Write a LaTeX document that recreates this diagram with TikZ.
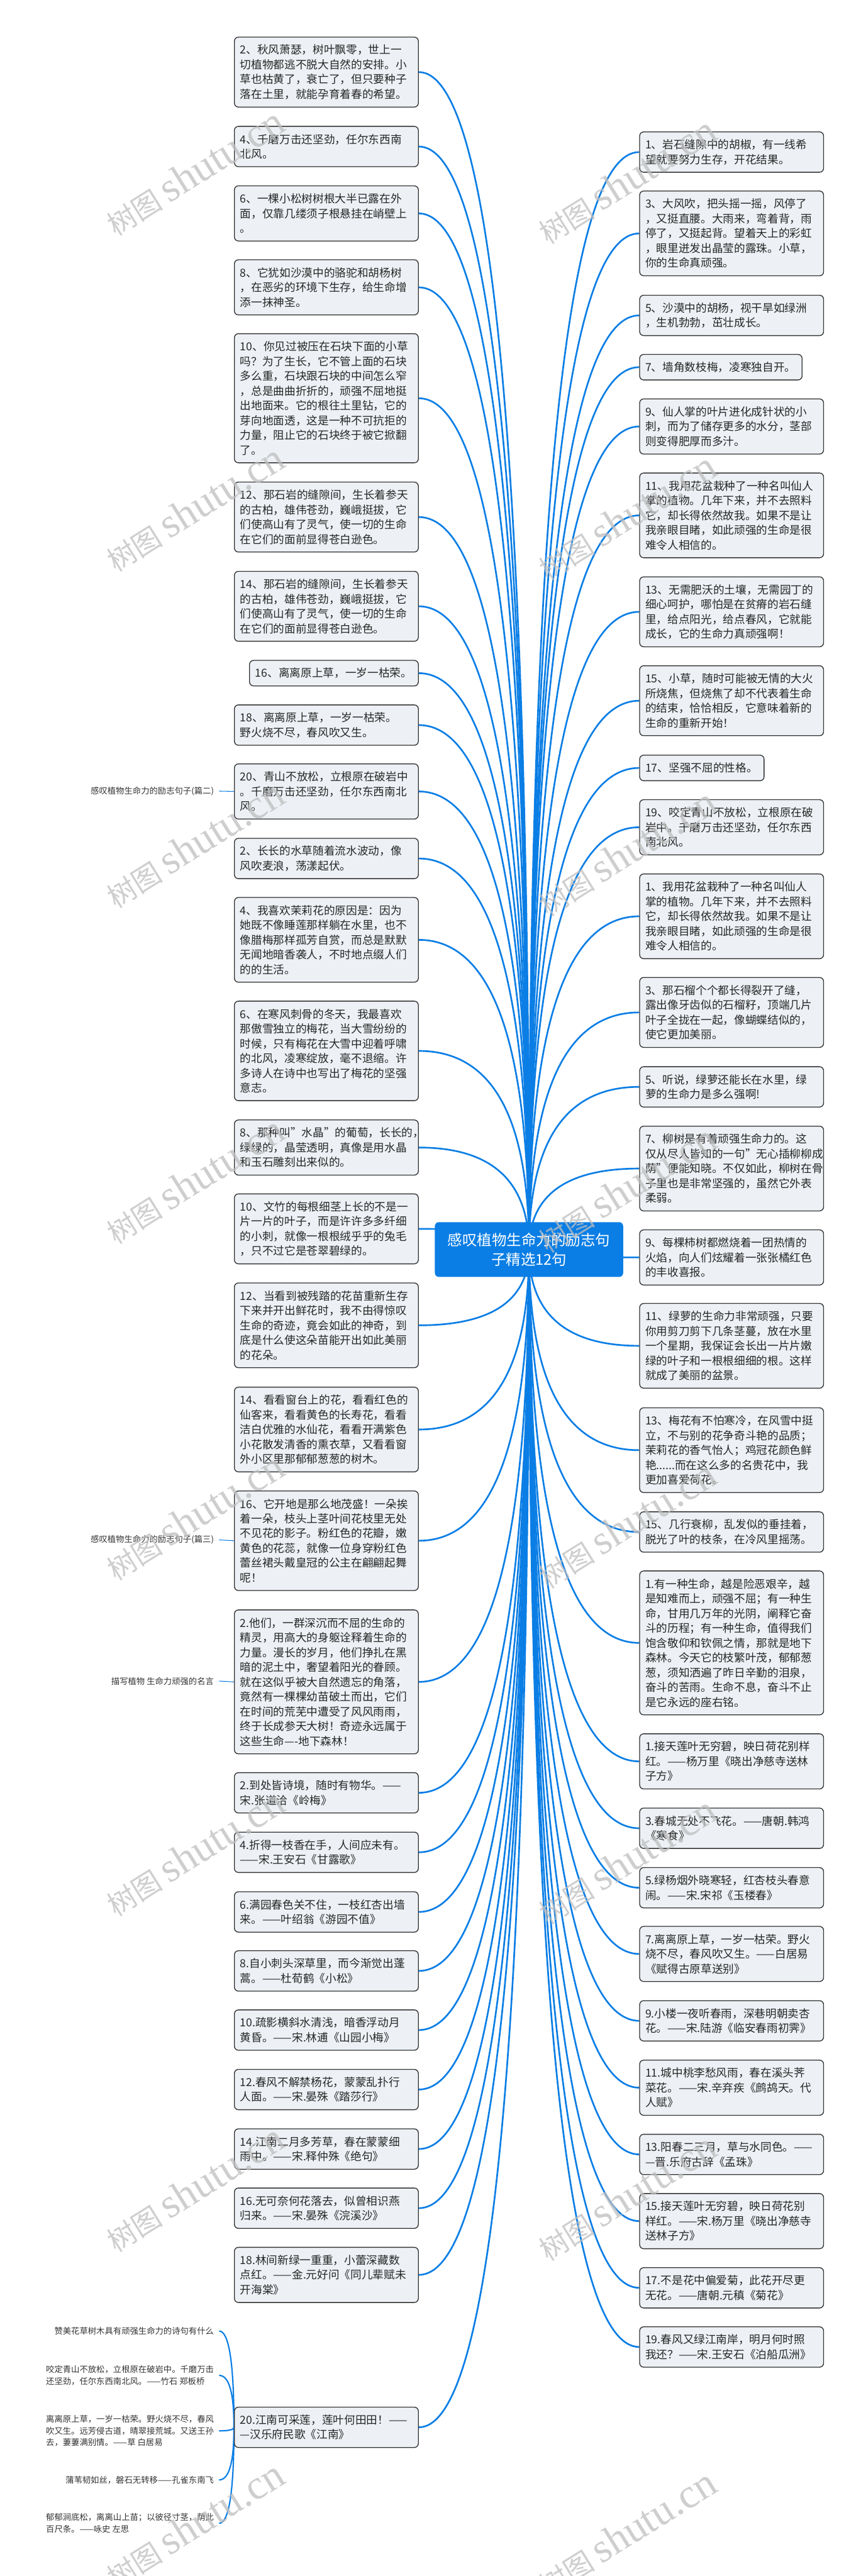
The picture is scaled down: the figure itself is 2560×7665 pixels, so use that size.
\documentclass[tikz,border=0pt]{standalone}
\usepackage{fontspec}
\setmainfont{Noto Sans CJK SC}
\newfontfamily\wmlatin{Liberation Serif}
\usepackage{tikz}
\usetikzlibrary{calc,backgrounds}

\definecolor{mapblue}{RGB}{11,126,229}
\definecolor{boxfill}{RGB}{237,241,245}
\definecolor{boxline}{RGB}{51,51,51}
\definecolor{wmgray}{RGB}{190,190,190}
\newcommand{\leaffont}{\fontsize{9.4pt}{12.5pt}\selectfont}
\newcommand{\rootfont}{\fontsize{12.5pt}{16.5pt}\selectfont}
\newcommand{\notefont}{\fontsize{7.1pt}{10pt}\selectfont}

\begin{document}
\begin{tikzpicture}[x=0.01cm, y=-0.01cm,
  leaf/.style={draw=boxline, fill=boxfill, rounded corners=0.12cm, line width=0.025cm, text width=5.13cm, inner xsep=0.17cm, inner ysep=0pt, align=left, text=black!85, font=\leaffont},
  nl/.style={minimum height={(0.32+0.44*#1)*1cm}},
  lft/.style={leaf, anchor=east},
  rgt/.style={leaf, anchor=west},
  root/.style={fill=mapblue, rounded corners=0.12cm, minimum width=5.6cm, minimum height=1.63cm, text width=4.9cm, align=center, text=white, font=\rootfont},
  note/.style={anchor=east, align=left, inner xsep=0.15cm, text=black!80, font=\notefont},
  branch/.style={draw=mapblue, line width=0.05cm, to path={.. controls ($(\tikztostart)!0.6667!(\tikztotarget|-\tikztostart)$) and ($(\tikztotarget)!0.6667!(\tikztotarget|-\tikztostart)$) .. (\tikztotarget)}},
  twig/.style={draw=mapblue, line width=0.02cm},
  wmark/.style={anchor=base west, rotate=32, text=wmgray, opacity=0.75, inner sep=0pt}
]
\useasboundingbox (0,0) rectangle (2560,7665);

% Central topic
\node[root] (cen) at (1574,3718) {感叹植物生命力的励志句\\子精选12句};

% Left column
\node[lft, nl=4] (L1) at (1246,214.5) {2、秋风萧瑟，树叶飘零，世上一\\切植物都逃不脱大自然的安排。小\\草也枯黄了，衰亡了，但只要种子\\落在土里，就能孕育着春的希望。};
\node[lft, nl=2] (L2) at (1246,436) {4、千磨万击还坚劲，任尔东西南\\北风。};
\node[lft, nl=3] (L3) at (1246,635) {6、一棵小松树树根大半已露在外\\面，仅靠几缕须子根悬挂在峭壁上\\。};
\node[lft, nl=3] (L4) at (1246,855) {8、它犹如沙漠中的骆驼和胡杨树\\，在恶劣的环境下生存，给生命增\\添一抹神圣。};
\node[lft, nl=8] (L5) at (1246,1185) {10、你见过被压在石块下面的小草\\吗？为了生长，它不管上面的石块\\多么重，石块跟石块的中间怎么窄\\，总是曲曲折折的，顽强不屈地挺\\出地面来。它的根往土里钻，它的\\芽向地面透，这是一种不可抗拒的\\力量，阻止它的石块终于被它掀翻\\了。};
\node[lft, nl=4] (L6) at (1246,1538.5) {12、那石岩的缝隙间，生长着参天\\的古柏，雄伟苍劲，巍峨挺拔，它\\们使高山有了灵气，使一切的生命\\在它们的面前显得苍白逊色。};
\node[lft, nl=4] (L7) at (1246,1804) {14、那石岩的缝隙间，生长着参天\\的古柏，雄伟苍劲，巍峨挺拔，它\\们使高山有了灵气，使一切的生命\\在它们的面前显得苍白逊色。};
\node[lft, nl=1, text width=4.68cm] (L8) at (1246,2003) {16、离离原上草，一岁一枯荣。};
\node[lft, nl=2] (L9) at (1246,2157.5) {18、离离原上草，一岁一枯荣。\\野火烧不尽，春风吹又生。};
\node[lft, nl=3] (L10) at (1246,2355) {20、青山不放松，立根原在破岩中\\。千磨万击还坚劲，任尔东西南北\\风。};
\node[lft, nl=2] (L11) at (1246,2554.5) {2、长长的水草随着流水波动，像\\风吹麦浪，荡漾起伏。};
\node[lft, nl=5] (L12) at (1246,2796.5) {4、我喜欢茉莉花的原因是：因为\\她既不像睡莲那样躺在水里，也不\\像腊梅那样孤芳自赏，而总是默默\\无闻地暗香袭人，不时地点缀人们\\的的生活。};
\node[lft, nl=6] (L13) at (1246,3127) {6、在寒风刺骨的冬天，我最喜欢\\那傲雪独立的梅花，当大雪纷纷的\\时候，只有梅花在大雪中迎着呼啸\\的北风，凌寒绽放，毫不退缩。许\\多诗人在诗中也写出了梅花的坚强\\意志。};
\node[lft, nl=3] (L14) at (1246,3414.5) {8、那种叫"水晶"的葡萄，长长的，\\绿绿的，晶莹透明，真像是用水晶\\和玉石雕刻出来似的。};
\node[lft, nl=4] (L15) at (1246,3656.5) {10、文竹的每根细茎上长的不是一\\片一片的叶子，而是许许多多纤细\\的小刺，就像一根根绒乎乎的兔毛\\，只不过它是苍翠碧绿的。};
\node[lft, nl=5] (L16) at (1246,3943.5) {12、当看到被残踏的花苗重新生存\\下来并开出鲜花时，我不由得惊叹\\生命的奇迹，竟会如此的神奇，到\\底是什么使这朵苗能开出如此美丽\\的花朵。};
\node[lft, nl=5] (L17) at (1246,4253.5) {14、看看窗台上的花，看看红色的\\仙客来，看看黄色的长寿花，看看\\洁白优雅的水仙花，看看开满紫色\\小花散发清香的熏衣草，又看看窗\\外小区里那郁郁葱葱的树木。};
\node[lft, nl=6] (L18) at (1246,4584.5) {16、它开地是那么地茂盛！一朵挨\\着一朵，枝头上茎叶间花枝里无处\\不见花的影子。粉红色的花瓣，嫩\\黄色的花蕊，就像一位身穿粉红色\\蕾丝裙头戴皇冠的公主在翩翩起舞\\呢！};
\node[lft, nl=9] (L19) at (1246,5004.5) {2.他们，一群深沉而不屈的生命的\\精灵，用高大的身躯诠释着生命的\\力量。漫长的岁月，他们挣扎在黑\\暗的泥土中，奢望着阳光的眷顾。\\就在这似乎被大自然遗忘的角落，\\竟然有一棵棵幼苗破土而出，它们\\在时间的荒芜中遭受了风风雨雨，\\终于长成参天大树！奇迹永远属于\\这些生命----地下森林！};
\node[lft, nl=2] (L20) at (1246,5334.5) {2.到处皆诗境，随时有物华。——\\宋.张道洽《岭梅》};
\node[lft, nl=2] (L21) at (1246,5511.5) {4.折得一枝香在手，人间应未有。\\——宋.王安石《甘露歌》};
\node[lft, nl=2] (L22) at (1246,5689) {6.满园春色关不住，一枝红杏出墙\\来。——叶绍翁《游园不值》};
\node[lft, nl=2] (L23) at (1246,5864.5) {8.自小刺头深草里，而今渐觉出蓬\\蒿。——杜荀鹤《小松》};
\node[lft, nl=2] (L24) at (1246,6040.5) {10.疏影横斜水清浅，暗香浮动月\\黄昏。——宋.林逋《山园小梅》};
\node[lft, nl=2] (L25) at (1246,6217.5) {12.春风不解禁杨花，蒙蒙乱扑行\\人面。——宋.晏殊《踏莎行》};
\node[lft, nl=2] (L26) at (1246,6394.5) {14.江南二月多芳草，春在蒙蒙细\\雨中。——宋.释仲殊《绝句》};
\node[lft, nl=2] (L27) at (1246,6570.5) {16.无可奈何花落去，似曾相识燕\\归来。——宋.晏殊《浣溪沙》};
\node[lft, nl=3] (L28) at (1246,6769) {18.林间新绿一重重，小蕾深藏数\\点红。——金.元好问《同儿辈赋未\\开海棠》};
\node[lft, nl=2] (L29) at (1246,7222.5) {20.江南可采莲，莲叶何田田！——\\—汉乐府民歌《江南》};

% Right column
\node[rgt, nl=2] (R1) at (1902,452.5) {1、岩石缝隙中的胡椒，有一线希\\望就要努力生存，开花结果。};
\node[rgt, nl=5] (R2) at (1902,694.5) {3、大风吹，把头摇一摇，风停了\\，又挺直腰。大雨来，弯着背，雨\\停了，又挺起背。望着天上的彩虹\\，眼里迸发出晶莹的露珠。小草，\\你的生命真顽强。};
\node[rgt, nl=2] (R3) at (1902,938.5) {5、沙漠中的胡杨，视干旱如绿洲\\，生机勃勃，茁壮成长。};
\node[rgt, nl=1, text width=4.49cm] (R4) at (1902,1092.5) {7、墙角数枝梅，凌寒独自开。};
\node[rgt, nl=3] (R5) at (1902,1269) {9、仙人掌的叶片进化成针状的小\\刺，而为了储存更多的水分，茎部\\则变得肥厚而多汁。};
\node[rgt, nl=5] (R6) at (1902,1533.5) {11、我用花盆栽种了一种名叫仙人\\掌的植物。几年下来，并不去照料\\它，却长得依然故我。如果不是让\\我亲眼目睹，如此顽强的生命是很\\难令人相信的。};
\node[rgt, nl=4] (R7) at (1902,1820.5) {13、无需肥沃的土壤，无需园丁的\\细心呵护，哪怕是在贫瘠的岩石缝\\里，给点阳光，给点春风，它就能\\成长，它的生命力真顽强啊！};
\node[rgt, nl=4] (R8) at (1902,2085) {15、小草，随时可能被无情的大火\\所烧焦，但烧焦了却不代表着生命\\的结束，恰恰相反，它意味着新的\\生命的重新开始！};
\node[rgt, nl=1, text width=3.36cm] (R9) at (1902,2285) {17、坚强不屈的性格。};
\node[rgt, nl=3] (R10) at (1902,2461.5) {19、咬定青山不放松，立根原在破\\岩中。千磨万击还坚劲，任尔东西\\南北风。};
\node[rgt, nl=5] (R11) at (1902,2726.5) {1、我用花盆栽种了一种名叫仙人\\掌的植物。几年下来，并不去照料\\它，却长得依然故我。如果不是让\\我亲眼目睹，如此顽强的生命是很\\难令人相信的。};
\node[rgt, nl=4] (R12) at (1902,3012.5) {3、那石榴个个都长得裂开了缝，\\露出像牙齿似的石榴籽，顶端几片\\叶子全拢在一起，像蝴蝶结似的，\\使它更加美丽。};
\node[rgt, nl=2] (R13) at (1902,3234) {5、听说，绿萝还能长在水里，绿\\萝的生命力是多么强啊!};
\node[rgt, nl=5] (R14) at (1902,3477) {7、柳树是有着顽强生命力的。这\\仅从尽人皆知的一句"无心插柳柳成\\荫"便能知晓。不仅如此，柳树在骨\\子里也是非常坚强的，虽然它外表\\柔弱。};
\node[rgt, nl=3] (R15) at (1902,3741.5) {9、每棵柿树都燃烧着一团热情的\\火焰，向人们炫耀着一张张橘红色\\的丰收喜报。};
\node[rgt, nl=5] (R16) at (1902,4004.5) {11、绿萝的生命力非常顽强，只要\\你用剪刀剪下几条茎蔓，放在水里\\一个星期，我保证会长出一片片嫩\\绿的叶子和一根根细细的根。这样\\就成了美丽的盆景。};
\node[rgt, nl=5] (R17) at (1902,4315) {13、梅花有不怕寒冷，在风雪中挺\\立，不与别的花争奇斗艳的品质；\\茉莉花的香气怡人；鸡冠花颜色鲜\\艳......而在这么多的名贵花中，我\\更加喜爱荷花。};
\node[rgt, nl=2] (R18) at (1902,4558.5) {15、几行衰柳，乱发似的垂挂着，\\脱光了叶的枝条，在冷风里摇荡。};
\node[rgt, nl=9] (R19) at (1902,4888.5) {1.有一种生命，越是险恶艰辛，越\\是知难而上，顽强不屈；有一种生\\命，甘用几万年的光阴，阐释它奋\\斗的历程；有一种生命，值得我们\\饱含敬仰和钦佩之情，那就是地下\\森林。今天它的枝繁叶茂，郁郁葱\\葱，须知洒遍了昨日辛勤的泪泉，\\奋斗的苦雨。生命不息，奋斗不止\\是它永远的座右铭。};
\node[rgt, nl=3] (R20) at (1902,5241) {1.接天莲叶无穷碧，映日荷花别样\\红。——杨万里《晓出净慈寺送林\\子方》};
\node[rgt, nl=2] (R21) at (1902,5440) {3.春城无处不飞花。——唐朝.韩鸿\\《寒食》};
\node[rgt, nl=2] (R22) at (1902,5617) {5.绿杨烟外晓寒轻，红杏枝头春意\\闹。——宋.宋祁《玉楼春》};
\node[rgt, nl=3] (R23) at (1902,5814) {7.离离原上草，一岁一枯荣。野火\\烧不尽，春风吹又生。——白居易\\《赋得古原草送别》};
\node[rgt, nl=2] (R24) at (1902,6013) {9.小楼一夜听春雨，深巷明朝卖杏\\花。——宋.陆游《临安春雨初霁》};
\node[rgt, nl=3] (R25) at (1902,6212) {11.城中桃李愁风雨，春在溪头荠\\菜花。——宋.辛弃疾《鹧鸪天。代\\人赋》};
\node[rgt, nl=2] (R26) at (1902,6410.5) {13.阳春二三月，草与水同色。——\\—晋.乐府古辞《孟珠》};
\node[rgt, nl=3] (R27) at (1902,6609) {15.接天莲叶无穷碧，映日荷花别\\样红。——宋.杨万里《晓出净慈寺\\送林子方》};
\node[rgt, nl=2] (R28) at (1902,6807.5) {17.不是花中偏爱菊，此花开尽更\\无花。——唐朝.元稹《菊花》};
\node[rgt, nl=2] (R29) at (1902,6983.5) {19.春风又绿江南岸，明月何时照\\我还？——宋.王安石《泊船瓜洲》};

% Outer labels on the left
\node[note] (P2) at (652,2354) {感叹植物生命力的励志句子(篇二)};
\node[note] (P3) at (652,4582) {感叹植物生命力的励志句子(篇三)};
\node[note] (M1) at (652,5002) {描写植物 生命力顽强的名言};
\node[note] (C1) at (652,6936) {赞美花草树木具有顽强生命力的诗句有什么};
\node[note] (C2) at (652,7068) {咬定青山不放松，立根原在破岩中。千磨万击\\还坚劲，任尔东西南北风。——竹石 郑板桥};
\node[note] (C3) at (652,7233) {离离原上草，一岁一枯荣。野火烧不尽，春风\\吹又生。远芳侵古道，晴翠接荒城。又送王孙\\去，萋萋满别情。——草 白居易};
\node[note] (C4) at (652,7379) {蒲苇韧如丝，磐石无转移——孔雀东南飞};
\node[note] (C5) at (652,7508) {郁郁涧底松，离离山上苗；以彼径寸茎，荫此\\百尺条。——咏史 左思};

% Connectors
\begin{scope}[on background layer]
\fill[white] (0,0) rectangle (2560,7665);
\foreach \i in {1,...,29} {
  \draw[branch] (L\i.east) to (cen.center);
  \draw[branch] (R\i.west) to (cen.center);
}
\foreach \i in {1,...,5}
  \draw[branch, line width=0.04cm] (C\i.east) to (L29.west);
\draw[twig] (P2.east) -- (L10.west);
\draw[twig] (P3.east) -- (L18.west);
\draw[twig] (M1.east) -- (L19.west);
\end{scope}

% Watermark
\foreach \k in {0,...,7} {
  \node[wmark] (wl\k) at (345,705+1000*\k) {\fontsize{24pt}{24pt}\selectfont 树图\ \wmlatin\fontsize{35pt}{35pt}\selectfont shutu.cn};
  \node[wmark] (wr\k) at (1630,730+1000*\k) {\fontsize{24pt}{24pt}\selectfont 树图\ \wmlatin\fontsize{35pt}{35pt}\selectfont shutu.cn};
}

\end{tikzpicture}
\end{document}
